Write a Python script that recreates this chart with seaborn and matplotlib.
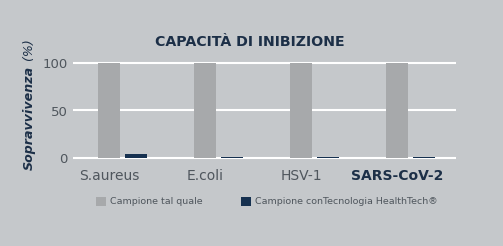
import matplotlib
matplotlib.use("Agg")
import matplotlib.pyplot as plt
import matplotlib.transforms as mtransforms
import seaborn as sns
import pandas as pd

categories = ["S.aureus", "E.coli", "HSV-1", "SARS-CoV-2"]
series_names = ["Campione tal quale", "Campione conTecnologia HealthTech®"]
untreated = [100, 100, 100, 100]
treated = [5, 2, 2, 2]
yticks = [0, 50, 100]
ytick_labels = ["0", "50", "100"]
title = "CAPACITÀ DI INIBIZIONE"

df = pd.DataFrame({
    "Categoria": categories * 2,
    "Serie": [series_names[0]] * len(categories) + [series_names[1]] * len(categories),
    "Valore": untreated + treated,
})

BG = "#c5c8cb"
GRAY = "#a7a9ab"
NAVY = "#163150"
TITLE_C = "#1c2f47"
TXT = "#4f565d"

sns.set_theme(style="white")
plt.rcParams["font.family"] = ["DejaVu Sans"]
plt.rcParams["patch.edgecolor"] = "none"
plt.rcParams["patch.linewidth"] = 0

W, H = 503, 246
fig = plt.figure(figsize=(W / 100, H / 100), dpi=100, facecolor=BG)
ax = fig.add_axes([73 / W, (H - 160.4) / H, 383 / W, (160.4 - 60.6) / H])
ax.set_facecolor(BG)

sns.barplot(data=df, x="Categoria", y="Valore", hue="Serie",
            palette=[GRAY, NAVY], saturation=1, width=0.5625, gap=0.185,
            errorbar=None, ax=ax, legend=True, zorder=3,
            linewidth=0, edgecolor="none")

ax.set_xlim(-0.516, 3.479)
ax.set_ylim(-2, 102)
ax.set_yticks(yticks)
ax.set_yticklabels(ytick_labels)
ax.yaxis.grid(True, color="white", lw=1.5, zorder=1)
ax.set_axisbelow(True)
for s in ax.spines.values():
    s.set_visible(False)
ax.tick_params(axis="both", length=0)
ax.tick_params(axis="y", pad=3.6, labelsize=9.5, labelcolor=TXT)
ax.tick_params(axis="x", pad=6.5, labelsize=10, labelcolor=TXT)
ax.set_xlabel("")
ax.set_ylabel("")

offset = mtransforms.ScaledTranslation(-13 / 100, 0, fig.dpi_scale_trans)
for lab in ax.get_xticklabels():
    lab.set_transform(lab.get_transform() + offset)
    if lab.get_text() == "SARS-CoV-2":
        lab.set_fontweight("bold")
        lab.set_color(TITLE_C)

fig.text(250 / W, 1 - 42 / H, title, ha="center", va="center",
         fontsize=10.2, fontweight="bold", color=TITLE_C)

fig.text(29 / W, 1 - 170 / H, "Sopravvivenza", rotation=90, rotation_mode="anchor",
         ha="left", va="center", fontsize=9.1, fontweight="bold", fontstyle="italic",
         color=TITLE_C)
fig.text(29 / W, 1 - 65 / H, " (%)", rotation=90, rotation_mode="anchor",
         ha="left", va="center", fontsize=9.1, fontstyle="italic", color=TITLE_C)

sns.move_legend(ax, "center left", bbox_to_anchor=(96 / W, 1 - 201.5 / H),
                bbox_transform=fig.transFigure, ncol=2, frameon=False, title=None,
                fontsize=6.8, handlelength=1.06, handleheight=1.06,
                handletextpad=0.42, columnspacing=4.1, borderpad=0, borderaxespad=0)
leg = ax.get_legend()
for t in leg.get_texts():
    t.set_color(TXT)
for p in leg.get_patches():
    p.set_edgecolor("none")
    p.set_linewidth(0)

fig.savefig("out.png", dpi=100, facecolor=BG)
